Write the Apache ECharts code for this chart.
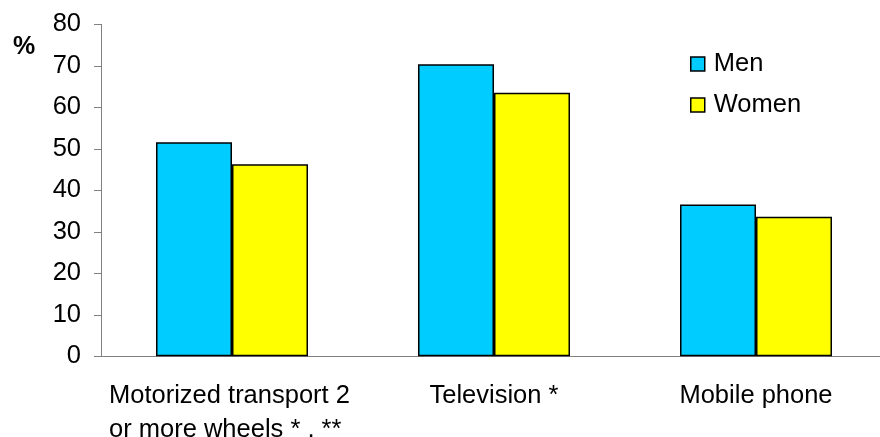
<!DOCTYPE html>
<html>
<head>
<meta charset="utf-8">
<script src="https://cdn.jsdelivr.net/npm/echarts@6/dist/echarts.min.js"></script>
<style>
  html, body { margin: 0; padding: 0; background: #fff; }
  #chart { width: 880px; height: 437px; }
</style>
</head>
<body>
<div id="chart"></div>
<script>
// Ownership share by sex, per item
var categories = ['Motorized transport 2\nor more wheels * , **', 'Television *', 'Mobile phone'];
var menValues = [51.6, 70.4, 36.6];
var womenValues = [46.3, 63.5, 33.6];
var seriesNames = ['Men', 'Women'];

var FONT = '"Liberation Sans", Arial, sans-serif';
var FS = 25.5;
var chart = echarts.init(document.getElementById('chart'));

chart.setOption({
  animation: false,
  backgroundColor: '#ffffff',
  title: {
    text: '%',
    left: 8,
    top: 30,
    textStyle: { fontFamily: FONT, fontSize: 25, fontWeight: 'bold', color: '#000' }
  },
  legend: {
    orient: 'vertical',
    left: 685,
    top: 46,
    itemWidth: 14,
    itemHeight: 14,
    itemGap: 15,
    icon: 'rect',
    data: seriesNames,
    itemStyle: { borderColor: '#000', borderWidth: 1.5 },
    textStyle: { fontFamily: FONT, fontSize: FS, color: '#000', padding: [0, 0, 0, 4] }
  },
  grid: { left: 101, right: -7, top: 24.3, bottom: 80.7, containLabel: false, outerBoundsMode: 'none' },
  xAxis: {
    type: 'category',
    data: categories,
    axisLine: { lineStyle: { color: '#808080', width: 1 } },
    axisTick: { alignWithLabel: false, length: 8, lineStyle: { color: '#808080' } },
    axisLabel: {
      interval: 0,
      hideOverlap: false,
      margin: 23,
      fontFamily: FONT,
      fontSize: FS,
      lineHeight: 34,
      color: '#000',
      formatter: function (v, i) {
        return i === 0 ? '{w|' + v.split('\n').join('}\n{w|') + '}' : v;
      },
      rich: { w: { width: 246, align: 'left', fontFamily: FONT, fontSize: FS, lineHeight: 34, color: '#000' } }
    },
    splitLine: { show: false }
  },
  yAxis: {
    type: 'value',
    min: 0,
    max: 80,
    interval: 10,
    axisLine: { show: true, lineStyle: { color: '#808080', width: 1 } },
    axisTick: { show: true, length: 7, lineStyle: { color: '#808080' } },
    axisLabel: { margin: 20, fontFamily: FONT, fontSize: FS, color: '#000' },
    splitLine: { show: false }
  },
  series: [
    {
      name: seriesNames[0],
      type: 'bar',
      data: menValues,
      barWidth: 76,
      barGap: '0%',
      itemStyle: { color: '#00CCFF', borderColor: '#000', borderWidth: 1.5 }
    },
    {
      name: seriesNames[1],
      type: 'bar',
      data: womenValues,
      barWidth: 76,
      barGap: '0%',
      itemStyle: { color: '#FFFF00', borderColor: '#000', borderWidth: 1.5 }
    }
  ]
});
</script>
</body>
</html>
